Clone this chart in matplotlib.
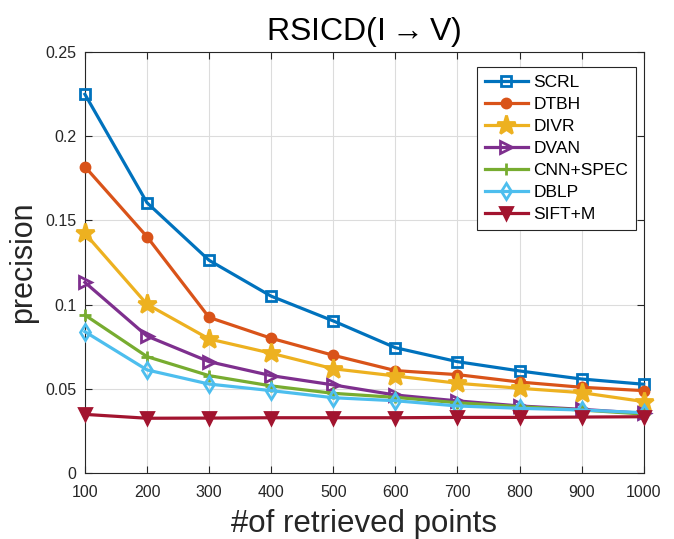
import matplotlib
matplotlib.use("Agg")
import matplotlib.pyplot as plt

plt.rcParams["font.family"] = ["Liberation Sans", "DejaVu Sans"]
plt.rcParams["mathtext.fontset"] = "custom"
plt.rcParams["mathtext.rm"] = "Liberation Sans"

retrieved_points = [100, 200, 300, 400, 500, 600, 700, 800, 900, 1000]

scrl = [0.2249, 0.1605, 0.1263, 0.1050, 0.0903, 0.0744, 0.0661, 0.0606, 0.0558, 0.0527]
dtbh = [0.1819, 0.1403, 0.0924, 0.0800, 0.0699, 0.0608, 0.0584, 0.0540, 0.0509, 0.0489]
divr = [0.1423, 0.1002, 0.0796, 0.0711, 0.0619, 0.0576, 0.0533, 0.0503, 0.0477, 0.0424]
dvan = [0.1132, 0.0813, 0.0661, 0.0578, 0.0523, 0.0463, 0.0428, 0.0398, 0.0378, 0.0354]
cnn_spec = [0.0938, 0.0691, 0.0578, 0.0517, 0.0473, 0.0449, 0.0417, 0.0394, 0.0374, 0.0350]
dblp = [0.0839, 0.0612, 0.0528, 0.0489, 0.0447, 0.0429, 0.0398, 0.0384, 0.0374, 0.0358]
sift_m = [0.0348, 0.0325, 0.0326, 0.0328, 0.0328, 0.0328, 0.0330, 0.0330, 0.0332, 0.0334]

series = [
    ("SCRL", scrl, "#0072BD", "s", "none", 7),
    ("DTBH", dtbh, "#D95319", "o", "#D95319", 6.5),
    ("DIVR", divr, "#EDB120", "*", "#EDB120", 14),
    ("DVAN", dvan, "#7E2F8E", ">", "none", 8),
    ("CNN+SPEC", cnn_spec, "#77AC30", "+", "none", 8),
    ("DBLP", dblp, "#4DBEEE", "d", "none", 8.5),
    ("SIFT+M", sift_m, "#A2142F", "v", "#A2142F", 8.5),
]

fig = plt.figure(figsize=(6.74, 5.39), dpi=100)
ax = fig.add_axes([0.126, 0.1225, 0.829, 0.781])

for name, values, color, marker, face, size in series:
    ax.plot(retrieved_points, values, color=color, linewidth=2.3, marker=marker,
            markersize=size, markerfacecolor=face, markeredgecolor=color,
            markeredgewidth=2, label=name, clip_on=False, zorder=3)

ax.set_xlim(100, 1000)
ax.set_ylim(0, 0.25)
ax.set_xticks(retrieved_points)
ax.set_yticks([0, 0.05, 0.1, 0.15, 0.2, 0.25])
ax.set_yticklabels(["0", "0.05", "0.1", "0.15", "0.2", "0.25"])
ax.tick_params(direction="in", labelsize=11.5, length=5, color="#262626",
               top=True, right=True, labelcolor="#262626")
ax.tick_params(axis="x", pad=9)
ax.tick_params(axis="y", pad=6)
ax.grid(True, color="#dcdcdc", linewidth=0.8)
ax.set_axisbelow(True)
for spine in ax.spines.values():
    spine.set_color("#262626")
    spine.set_linewidth(0.8)

ax.set_title(r"RSICD(I${\rightarrow}$V)", fontsize=23, color="black", pad=9)
ax.set_xlabel("#of retrieved points", fontsize=22.5, labelpad=6, color="#262626")
ax.set_ylabel("precision", fontsize=22, labelpad=5, color="#262626")

leg = ax.legend(loc="upper right", bbox_to_anchor=(0.986, 0.965), borderaxespad=0,
                fontsize=12.5, frameon=True, fancybox=False,
                edgecolor="#262626", handlelength=2.5,
                labelspacing=0.4, handletextpad=0.3, borderpad=0.45,
                framealpha=1)
leg.get_frame().set_linewidth(0.8)
leg.set_zorder(5)

fig.savefig("out.png", dpi=100)
